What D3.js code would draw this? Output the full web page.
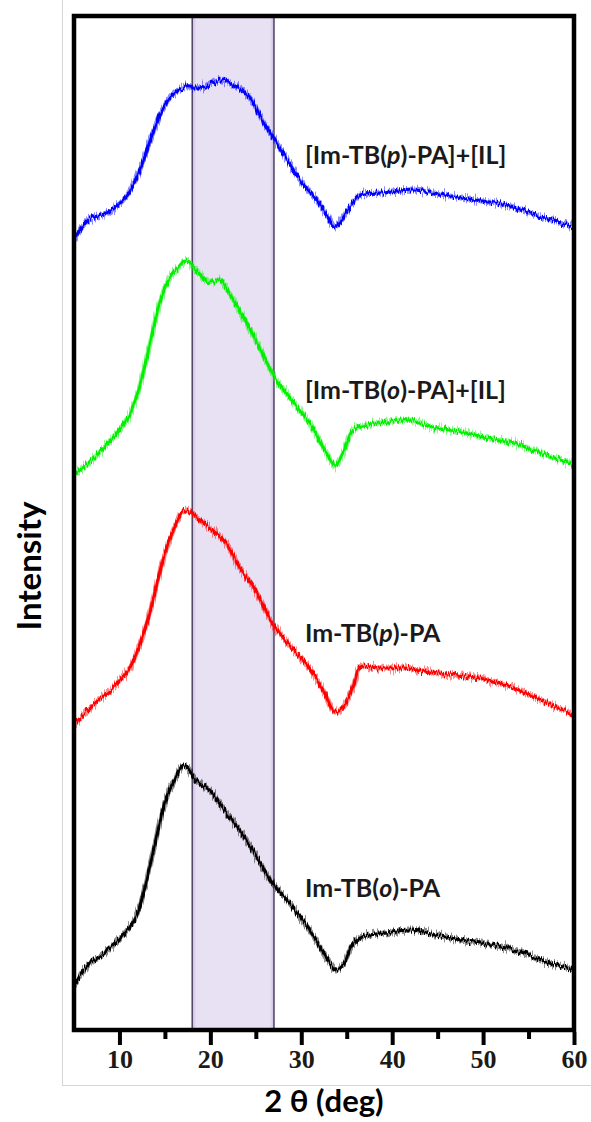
<!DOCTYPE html>
<html>
<head>
<meta charset="utf-8">
<script src="https://cdn.jsdelivr.net/npm/d3@7/dist/d3.min.js"></script>
<style>
  html, body { margin: 0; padding: 0; background: #fff; }
  svg { display: block; }
</style>
</head>
<body>
<svg id="chart" width="591" height="1122"></svg>
<script>
// XRD patterns, stacked with a vertical offset (arbitrary intensity units)
const sampleNames = ["Im-TB(o)-PA", "Im-TB(p)-PA", "[Im-TB(o)-PA]+[IL]", "[Im-TB(p)-PA]+[IL]"];
const sampleColors = ["#000000", "#ff0000", "#00f000", "#0000ff"];
const stackOffsets = [0, 250, 500, 750];

const oPA_theta = [5, 6.5, 8.4, 10.2, 11.8, 12.9, 14.0, 15.1, 16.2, 17.1, 18.4, 19.9, 21.3, 23.2, 25.1, 26.8, 28.7, 30.9, 32.8, 33.8, 34.6, 35.6, 36.7, 39.3, 42.0, 44.8, 47.6, 50.9, 54.2, 57.0, 60];
const oPA_int   = [45, 65, 77, 93, 113, 147, 190, 230, 253, 265, 250, 240, 223, 200, 173, 147, 127, 100, 72, 60, 65, 85, 93, 97, 100, 95, 90, 85, 78, 68, 60];

const pPA_theta = [5, 7.3, 9.1, 11.0, 12.4, 13.5, 14.7, 15.8, 16.9, 17.4, 18.8, 20.2, 21.7, 23.2, 25.1, 26.8, 28.7, 30.9, 32.4, 33.7, 34.6, 35.7, 36.5, 38.4, 41.3, 44.2, 47.2, 50.1, 53.1, 56.4, 60];
const pPA_int   = [55, 77, 90, 110, 140, 173, 217, 247, 268, 270, 260, 250, 237, 213, 187, 157, 135, 112, 90, 68, 73, 93, 113, 112, 112, 108, 105, 100, 93, 80, 65];

const oIL_theta = [5, 7.3, 9.1, 11.0, 12.1, 13.2, 14.3, 15.4, 16.9, 17.4, 18.4, 19.9, 21.0, 22.4, 24.0, 25.4, 26.8, 28.7, 30.9, 32.8, 33.7, 34.6, 35.7, 37.3, 39.5, 42.0, 44.6, 47.6, 50.6, 53.4, 56.4, 60];
const oIL_int   = [55, 73, 90, 113, 140, 180, 223, 250, 267, 270, 260, 247, 250, 232, 207, 183, 157, 133, 107, 77, 65, 77, 100, 105, 108, 110, 103, 98, 92, 87, 77, 65];

const pIL_theta = [5, 6.6, 8.8, 10.7, 12.1, 13.5, 14.7, 15.8, 17.3, 18.8, 20.2, 21.3, 22.9, 24.3, 25.7, 27.3, 29.8, 31.7, 32.8, 33.7, 34.6, 35.7, 36.5, 39.0, 42.4, 44.6, 47.6, 50.6, 53.4, 56.4, 60];
const pIL_int   = [40, 60, 68, 83, 107, 143, 170, 185, 193, 192, 197, 200, 193, 183, 160, 137, 101, 80, 65, 53, 63, 78, 85, 87, 90, 87, 82, 78, 73, 63, 53];

const sampleTheta = [oPA_theta, pPA_theta, oIL_theta, pIL_theta];
const sampleIntensity = [oPA_int, pPA_int, oIL_int, pIL_int];

// Highlighted 2θ window
const bandRange = [18, 27];

const majorTicks = [10, 20, 30, 40, 50, 60];
const minorTicks = [15, 25, 35, 45, 55];

const svg = d3.select("#chart");

const x = d3.scaleLinear().domain([5, 60]).range([74, 574]);
const y = d3.scaleLinear().domain([0, 1014]).range([1030, 16]);

const defs = svg.append("defs");

// Grainy detector noise look for the traces
function noiseFilter(id, seed, freq, scale) {
  const f = defs.append("filter")
    .attr("id", id)
    .attr("filterUnits", "userSpaceOnUse")
    .attr("x", 0).attr("y", 0).attr("width", 591).attr("height", 1122)
    .attr("color-interpolation-filters", "sRGB");
  f.append("feTurbulence")
    .attr("type", "fractalNoise")
    .attr("baseFrequency", freq)
    .attr("numOctaves", 2)
    .attr("seed", seed)
    .attr("result", "noise");
  f.append("feColorMatrix")
    .attr("in", "noise")
    .attr("type", "matrix")
    .attr("values", "1 0 0 0 0  0 0 0 0 0.5  0 0 0 0 0  0 0 0 0 1")
    .attr("result", "map");
  f.append("feDisplacementMap")
    .attr("in", "SourceGraphic")
    .attr("in2", "map")
    .attr("scale", scale)
    .attr("xChannelSelector", "G")
    .attr("yChannelSelector", "R");
}
noiseFilter("jitterA", 4, "0.9 0.02", 14);
noiseFilter("jitterB", 11, "0.7 0.03", 10);

// Band shading
const g = defs.append("linearGradient").attr("id", "bandFill").attr("x1", 0).attr("x2", 1).attr("y1", 0).attr("y2", 0);
[["0%", "#c9bcdd"], ["5%", "#e8e1f3"], ["95%", "#e8e1f3"], ["100%", "#c9bcdd"]]
  .forEach(([o, c]) => g.append("stop").attr("offset", o).attr("stop-color", c));

// Light border around the figure panel
svg.append("line").attr("x1", 62.5).attr("x2", 62.5).attr("y1", 0).attr("y2", 1085)
  .attr("stroke", "#d6d6d6").attr("stroke-width", 1);
svg.append("line").attr("x1", 62).attr("x2", 591).attr("y1", 1085.5).attr("y2", 1085.5)
  .attr("stroke", "#d6d6d6").attr("stroke-width", 1);

// Highlight band
svg.append("rect")
  .attr("x", x(bandRange[0])).attr("y", y(1014))
  .attr("width", x(bandRange[1]) - x(bandRange[0]))
  .attr("height", y(0) - y(1014))
  .attr("fill", "url(#bandFill)")
  .attr("stroke", "#3a2c4c").attr("stroke-width", 1.3);

// Traces
const line = d3.line()
  .x(d => x(d[0]))
  .y(d => y(d[1]))
  .curve(d3.curveCatmullRom.alpha(0.5));

const traces = svg.append("g");
sampleNames.forEach((name, i) => {
  const pts = sampleTheta[i].map((t, k) => [t, sampleIntensity[i][k] + stackOffsets[i]]);
  traces.append("path").attr("d", line(pts)).attr("fill", "none")
    .attr("filter", "url(#jitterA)")
    .attr("stroke", sampleColors[i]).attr("stroke-opacity", 0.45).attr("stroke-width", 5);
  traces.append("path").attr("d", line(pts)).attr("fill", "none")
    .attr("filter", "url(#jitterB)")
    .attr("stroke", sampleColors[i]).attr("stroke-width", 3);
});

// Sample labels (2θ, stacked intensity of the text baseline)
const labelPos = [[30.4, 133], [30.4, 388], [30.4, 631], [30.4, 866]];
const labelParts = [
  [["Im-TB(", false], ["o", true], [")-PA", false]],
  [["Im-TB(", false], ["p", true], [")-PA", false]],
  [["[Im-TB(", false], ["o", true], [")-PA]+[IL]", false]],
  [["[Im-TB(", false], ["p", true], [")-PA]+[IL]", false]]
];
labelParts.forEach((parts, i) => {
  const t = svg.append("text")
    .attr("x", x(labelPos[i][0])).attr("y", y(labelPos[i][1]))
    .attr("font-family", "Lato, 'Open Sans', sans-serif")
    .attr("font-weight", "bold").attr("font-size", 25)
    .attr("fill", "#1a1a1a");
  parts.forEach(([s, it]) => t.append("tspan").attr("font-style", it ? "italic" : "normal").text(s));
});

// Bottom axis: major and minor ticks
const axisY = 1032;
const ax = svg.append("g").attr("transform", `translate(0,${axisY})`)
  .call(d3.axisBottom(x).tickValues(majorTicks).tickSize(13).tickPadding(5).tickFormat(d3.format("d")));
ax.select(".domain").remove();
ax.selectAll(".tick line").attr("stroke", "#000").attr("stroke-width", 4);
ax.selectAll(".tick text")
  .attr("font-family", "'Liberation Serif', 'Times New Roman', serif")
  .attr("font-weight", "bold").attr("font-size", 26).attr("fill", "#1c1a16");

const axm = svg.append("g").attr("transform", `translate(0,${axisY})`)
  .call(d3.axisBottom(x).tickValues(minorTicks).tickSize(7).tickFormat(""));
axm.select(".domain").remove();
axm.selectAll(".tick line").attr("stroke", "#000").attr("stroke-width", 4);

// Plot frame
svg.append("rect")
  .attr("x", x(5)).attr("y", y(1014))
  .attr("width", x(60) - x(5)).attr("height", y(0) - y(1014))
  .attr("fill", "none").attr("stroke", "#000").attr("stroke-width", 4.5);

// Axis titles
svg.append("text")
  .attr("x", 324).attr("y", 1112)
  .attr("text-anchor", "middle")
  .attr("font-family", "Lato, 'Open Sans', sans-serif")
  .attr("font-weight", "bold").attr("font-size", 31).attr("fill", "#000")
  .text("2 θ (deg)");

svg.append("text")
  .attr("transform", "translate(41,566) rotate(-90)")
  .attr("text-anchor", "middle")
  .attr("font-family", "Lato, 'Open Sans', sans-serif")
  .attr("font-weight", "bold").attr("font-size", 33).attr("fill", "#000")
  .text("Intensity");
</script>
</body>
</html>
